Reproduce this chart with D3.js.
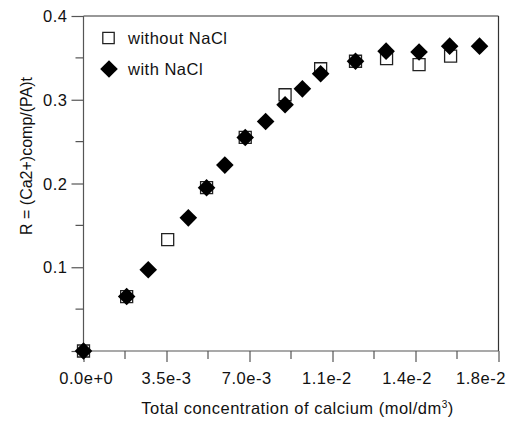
<!DOCTYPE html>
<html>
<head>
<meta charset="utf-8">
<script src="https://cdn.jsdelivr.net/npm/d3@7"></script>
<style>
  html, body { margin: 0; padding: 0; background: #fff; }
  svg { display: block; font-family: "Liberation Sans", Arial, Helvetica, sans-serif; }
</style>
</head>
<body>
<svg id="chart" width="510" height="421"></svg>
<script>
// ---- data ----
const withoutX = [0, 0.00182, 0.00355, 0.00519, 0.00682, 0.0085, 0.0100, 0.01147, 0.01278, 0.01415, 0.01548];
const withoutY = [0, 0.065, 0.133, 0.195, 0.255, 0.306, 0.337, 0.346, 0.349, 0.342, 0.352];
const withX = [0, 0.00182, 0.00273, 0.00442, 0.00519, 0.00596, 0.00682, 0.00768, 0.0085, 0.00923, 0.0100, 0.01147, 0.01276, 0.01415, 0.01544, 0.0167];
const withY = [0, 0.065, 0.097, 0.159, 0.195, 0.222, 0.255, 0.274, 0.294, 0.313, 0.331, 0.346, 0.358, 0.357, 0.364, 0.364];
const xMajorTicks = [0, 0.0035, 0.007, 0.0105, 0.014, 0.0175];
const xTickLabels = ["0.0e+0", "3.5e-3", "7.0e-3", "1.1e-2", "1.4e-2", "1.8e-2"];
const yMajorTicks = [0, 0.1, 0.2, 0.3, 0.4];
const yTickLabels = ["", "0.1", "0.2", "0.3", "0.4"];
const seriesNames = ["without NaCl", "with NaCl"];

// ---- layout ----
const svg = d3.select("#chart");
const L = 83.5, R = 498.5, T = 16, B = 351;
const x = d3.scaleLinear().domain([0, 0.0175]).range([L, R]);
const y = d3.scaleLinear().domain([0, 0.4]).range([B, T]);
// tick labels in the reference sit slightly compressed relative to the ticks
const xLab = d3.scaleLinear().domain([0, 0.0175]).range([86.3, 487.3]);
const axisColor = "#555";
const FS = 16.5, LS = 0.5;

const xMinor = d3.range(0, xMajorTicks.length - 1).map(i => (xMajorTicks[i] + xMajorTicks[i + 1]) / 2);
const yMinor = d3.range(0, yMajorTicks.length - 1).map(i => (yMajorTicks[i] + yMajorTicks[i + 1]) / 2);

// frame: top and right
svg.append("line").attr("x1", L).attr("x2", R).attr("y1", T).attr("y2", T)
  .attr("stroke", "#333").attr("stroke-width", 1.2);
svg.append("line").attr("x1", R).attr("x2", R).attr("y1", T).attr("y2", B)
  .attr("stroke", "#333").attr("stroke-width", 1.2);

// x axis
const gx = svg.append("g").attr("transform", `translate(0,${B})`)
  .call(d3.axisBottom(x).tickValues(xMajorTicks).tickSize(11).tickFormat(""));
gx.selectAll("path.domain").attr("stroke", axisColor).attr("stroke-width", 1.2)
  .attr("d", `M${L},0H${R}`);
gx.selectAll(".tick line").attr("stroke", axisColor).attr("stroke-width", 1.2);
svg.append("g").attr("transform", `translate(0,${B})`)
  .selectAll("line").data(xMinor).join("line")
  .attr("x1", d => x(d)).attr("x2", d => x(d)).attr("y1", 0).attr("y2", 8)
  .attr("stroke", axisColor).attr("stroke-width", 1.2);
svg.append("g").selectAll("text").data(xMajorTicks).join("text")
  .attr("x", d => Math.min(xLab(d), 506 - 25))
  .attr("y", 383.5).attr("text-anchor", "middle")
  .attr("font-size", FS).attr("letter-spacing", LS).attr("fill", "#111")
  .text((d, i) => xTickLabels[i]);

// y axis
const gy = svg.append("g").attr("transform", `translate(${L},0)`)
  .call(d3.axisLeft(y).tickValues(yMajorTicks).tickSize(12).tickFormat(""));
gy.selectAll("path.domain").attr("stroke", axisColor).attr("stroke-width", 1.2)
  .attr("d", `M0,${B}V${T}`);
gy.selectAll(".tick line").attr("stroke", axisColor).attr("stroke-width", 1.2);
svg.append("g").attr("transform", `translate(${L},0)`)
  .selectAll("line").data(yMinor).join("line")
  .attr("y1", d => y(d)).attr("y2", d => y(d)).attr("x1", 0).attr("x2", -8)
  .attr("stroke", axisColor).attr("stroke-width", 1.2);
svg.append("g").selectAll("text").data(yMajorTicks).join("text")
  .attr("x", 67.5).attr("y", d => y(d) + 6)
  .attr("text-anchor", "end").attr("font-size", FS).attr("letter-spacing", LS).attr("fill", "#111")
  .text((d, i) => yTickLabels[i]);

// axis titles
const xt = svg.append("text").attr("x", 297.5).attr("y", 414)
  .attr("text-anchor", "middle").attr("font-size", FS).attr("letter-spacing", LS).attr("fill", "#111");
xt.append("tspan").text("Total concentration of calcium (mol/dm");
xt.append("tspan").attr("font-size", 10).attr("dy", -6).text("3");
xt.append("tspan").attr("dy", 6).text(")");

svg.append("text")
  .attr("transform", "translate(32,156) rotate(-90)")
  .attr("text-anchor", "middle").attr("font-size", 16).attr("fill", "#111")
  .text("R = (Ca2+)comp/(PA)t");

// ---- marks ----
const sq = d3.symbol().type(d3.symbolSquare).size(144);
const dia = d3.symbol().type(d3.symbolSquare).size(155);

const withoutData = withoutX.map((v, i) => ({ x: v, y: withoutY[i] }));
const withData = withX.map((v, i) => ({ x: v, y: withY[i] }));

svg.append("g").selectAll("path").data(withoutData).join("path")
  .attr("d", sq)
  .attr("transform", d => `translate(${x(d.x)},${y(d.y)})`)
  .attr("fill", "#fff").attr("stroke", "#222").attr("stroke-width", 1.3);

svg.append("g").selectAll("path").data(withData).join("path")
  .attr("d", dia)
  .attr("transform", d => `translate(${x(d.x)},${y(d.y)}) rotate(45)`)
  .attr("fill", "#000");

// ---- legend ----
const leg = svg.append("g");
leg.append("path").attr("d", d3.symbol().type(d3.symbolSquare).size(130))
  .attr("transform", "translate(108.5,38)")
  .attr("fill", "#fff").attr("stroke", "#222").attr("stroke-width", 1.3);
leg.append("text").attr("x", 128).attr("y", 44).attr("font-size", FS).attr("letter-spacing", LS).attr("fill", "#111")
  .text(seriesNames[0]);
leg.append("path").attr("d", dia)
  .attr("transform", "translate(109,69) rotate(45)")
  .attr("fill", "#000");
leg.append("text").attr("x", 128).attr("y", 75).attr("font-size", FS).attr("letter-spacing", LS).attr("fill", "#111")
  .text(seriesNames[1]);
</script>
</body>
</html>
